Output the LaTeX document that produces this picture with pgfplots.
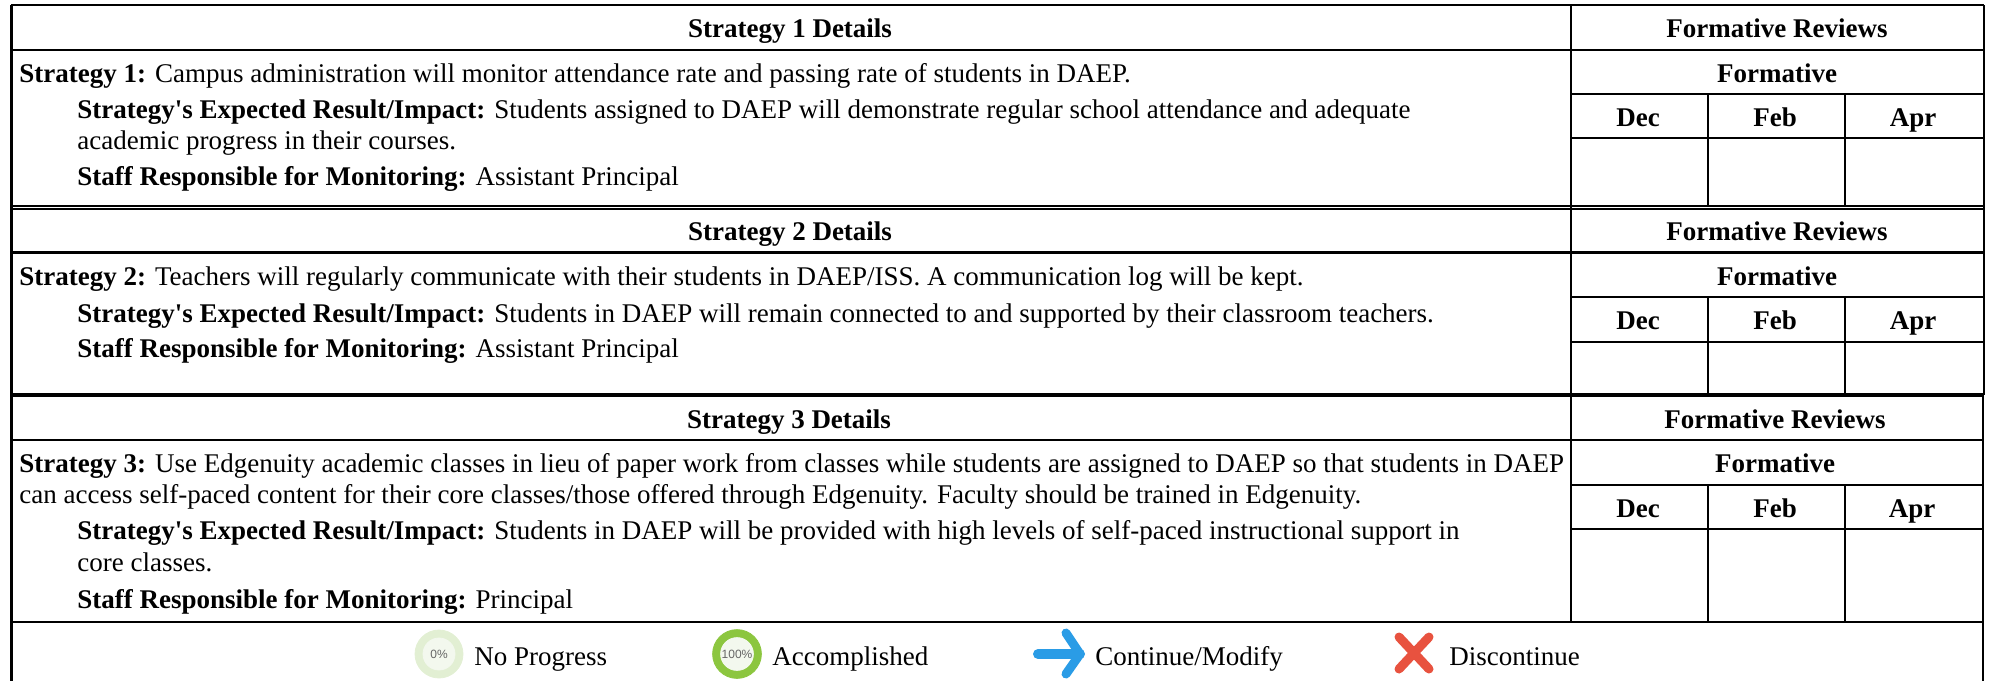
\documentclass[border=0pt]{standalone}
\usepackage{pgfplots}
\usepackage{fontspec}
\setmainfont[Ligatures=TeXOff]{Liberation Serif}
\newfontfamily\sansf{Liberation Sans}
\pgfplotsset{compat=1.18}
\definecolor{ringlight}{HTML}{E2EFD3}
\definecolor{ringin}{HTML}{F3F8EE}
\definecolor{ringgreen}{HTML}{8CC63F}
\definecolor{arrowblue}{HTML}{2A9CE6}
\definecolor{xred}{HTML}{E8523F}
\newcommand{\tl}[3]{\node[anchor=base west,inner sep=0pt,font=\fontsize{13.5}{16}\selectfont] at (axis cs:#1,#2) {#3};}
\newcommand{\tc}[3]{\node[anchor=base,inner sep=0pt,font=\fontsize{13.5}{16}\selectfont\bfseries] at (axis cs:#1,#2) {#3};}
\newcommand{\seg}[5][1.2pt]{\addplot[black,line width=#1,forget plot] coordinates {(#2,#3)(#4,#5)};}
\begin{document}
\begin{tikzpicture}
\begin{axis}[scale only axis,width=995pt,height=340.5pt,xmin=0,xmax=1990,ymin=0,ymax=681,y dir=reverse,axis lines=none,clip=false]
\path (axis cs:0,0) rectangle (axis cs:1990,681);
% outer frame
\seg[1.2pt]{11}{5}{1984}{5}
\seg[1.2pt]{11.5}{5}{11.5}{681}
\seg[1.2pt]{1984}{5}{1984}{395}
\seg[1.1pt]{1983}{395}{1983}{681}
% horizontal rules
\seg[1.3pt]{11}{50}{1984}{50}
\seg[1.1pt]{11}{206}{1984}{206}
\seg[1.1pt]{11}{209}{1984}{209}
\seg[1.3pt]{11}{252.5}{1984}{252.5}
\seg[2pt]{11}{394.5}{1984}{394.5}
\seg[1.3pt]{11}{440}{1983}{440}
\seg[1.4pt]{11}{622}{1983}{622}
% review columns
\seg{1571}{5}{1571}{622}
\seg{1571}{94}{1984}{94}
\seg{1571}{138}{1984}{138}
\seg{1708}{94}{1708}{206}
\seg{1845}{94}{1845}{206}
\seg{1571}{297}{1984}{297}
\seg{1571}{342}{1984}{342}
\seg{1708}{297}{1708}{395}
\seg{1845}{297}{1845}{395}
\seg{1571}{485}{1983}{485}
\seg{1571}{529}{1983}{529}
\seg{1708}{485}{1708}{622}
\seg{1845}{485}{1845}{622}
% section 1
\tc{790}{37}{Strategy 1 Details}
\tc{1777}{37}{Formative Reviews}
\tc{1777}{82}{Formative}
\tc{1638}{126}{Dec}
\tc{1775}{126}{Feb}
\tc{1913}{126}{Apr}
\tl{19}{82}{\textbf{Strategy 1:} Campus administration will monitor attendance rate and passing rate of students in DAEP.}
\tl{77}{118}{\textbf{Strategy's Expected Result/Impact:} Students assigned to DAEP will demonstrate regular school attendance and adequate}
\tl{77}{149}{academic progress in their courses.}
\tl{77}{185}{\textbf{Staff Responsible for Monitoring:} Assistant Principal}
% section 2
\tc{790}{240}{Strategy 2 Details}
\tc{1777}{240}{Formative Reviews}
\tc{1777}{285}{Formative}
\tc{1638}{329}{Dec}
\tc{1775}{329}{Feb}
\tc{1913}{329}{Apr}
\tl{19}{285}{\textbf{Strategy 2:} Teachers will regularly communicate with their students in DAEP/ISS. A communication log will be kept.}
\tl{77}{322}{\textbf{Strategy's Expected Result/Impact:} Students in DAEP will remain connected to and supported by their classroom teachers.}
\tl{77}{357}{\textbf{Staff Responsible for Monitoring:} Assistant Principal}
% section 3
\tc{789}{428}{Strategy 3 Details}
\tc{1775}{428}{Formative Reviews}
\tc{1775}{472}{Formative}
\tc{1638}{517}{Dec}
\tc{1775}{517}{Feb}
\tc{1912}{517}{Apr}
\tl{19}{472}{\textbf{Strategy 3:} Use Edgenuity academic classes in lieu of paper work from classes while students are assigned to DAEP so that students in DAEP}
\tl{19}{503}{can access self-paced content for their core classes/those offered through Edgenuity. Faculty should be trained in Edgenuity.}
\tl{77}{539}{\textbf{Strategy's Expected Result/Impact:} Students in DAEP will be provided with high levels of self-paced instructional support in}
\tl{77}{571}{core classes.}
\tl{77}{608}{\textbf{Staff Responsible for Monitoring:} Principal}
% legend icons
\addplot[only marks,mark=*,mark size=12pt,color=ringlight,mark options={draw=ringlight,fill=ringlight},forget plot] coordinates {(439,654)};
\addplot[only marks,mark=*,mark size=8pt,color=ringin,mark options={draw=ringin,fill=ringin},forget plot] coordinates {(439,654)};
\addplot[only marks,mark=*,mark size=12.2pt,color=ringgreen,mark options={draw=ringgreen,fill=ringgreen},forget plot] coordinates {(737,654)};
\addplot[only marks,mark=*,mark size=8.2pt,color=ringin,mark options={draw=ringin,fill=ringin},forget plot] coordinates {(737,654)};
\coordinate (zero) at (axis cs:439,654);
\coordinate (full) at (axis cs:737,654);
\addplot[arrowblue,line width=5pt,line cap=round,forget plot] coordinates {(1038,654)(1080,654)};
\addplot[arrowblue,line width=4.5pt,line cap=round,line join=round,forget plot] coordinates {(1066,633)(1080,654)(1066,674)};
\addplot[xred,line width=4.5pt,line cap=round,forget plot] coordinates {(1399,637)(1429,669)};
\addplot[xred,line width=4.5pt,line cap=round,forget plot] coordinates {(1429,637)(1399,669)};
\tl{474}{665}{No Progress}
\tl{772}{665}{Accomplished}
\tl{1095}{665}{Continue/Modify}
\tl{1449}{665}{Discontinue}
\end{axis}
\node[font=\sansf\fontsize{6}{7}\selectfont,text=black!60,inner sep=0pt] at (zero) {0\%};
\node[font=\sansf\fontsize{6}{7}\selectfont,text=black!60,inner sep=0pt] at (full) {100\%};
\end{tikzpicture}
\end{document}
